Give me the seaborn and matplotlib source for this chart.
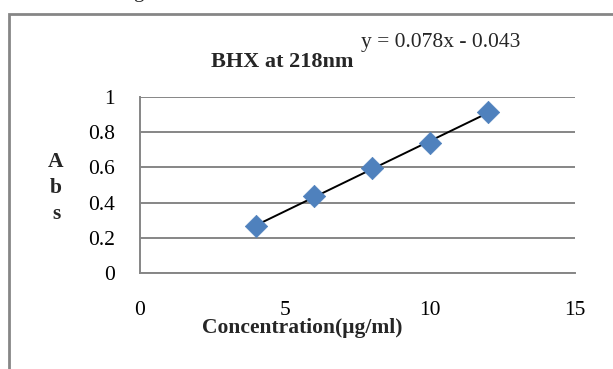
import numpy as np
import pandas as pd
import matplotlib
matplotlib.use('Agg')
import matplotlib.pyplot as plt
from matplotlib.patches import Rectangle
import seaborn as sns

# data
conc = [4, 6, 8, 10, 12]
absorb = [0.265, 0.44, 0.595, 0.737, 0.915]
slope = 0.078
intercept = -0.043
x_ticks = [0, 5, 10, 15]
y_ticks = [0, 0.2, 0.4, 0.6, 0.8, 1]

df = pd.DataFrame({'conc': conc, 'abs': absorb})

sns.set_theme(style='white')
plt.rcParams['font.family'] = ['Liberation Serif', 'DejaVu Serif']

W, H = 613, 369
fig = plt.figure(figsize=(W / 100, H / 100), dpi=100)
ax = fig.add_axes([140 / W, 1 - 273 / H, (575 - 140) / W, (273 - 97) / H])

grey = '#868686'

# outer chart border (runs off right and bottom)
fig.patches.append(Rectangle((9 / W, -0.1), 1.2, 1 - 14 / H + 0.1,
                             transform=fig.transFigure, fill=False,
                             edgecolor=grey, linewidth=2, zorder=0))

# fitted trendline
fit = np.polyfit(conc, absorb, 1)
xl = np.array([min(conc), max(conc)])
ax.plot(xl, np.polyval(fit, xl), color='black', linewidth=1.4, zorder=2)

sns.scatterplot(data=df, x='conc', y='abs', ax=ax, marker='D', s=130,
                color='#4F81BD', edgecolor='#4F81BD', linewidth=0.5, zorder=3)

ax.set_xlim(0, 15)
ax.set_ylim(0, 1)
ax.set_xticks(x_ticks)
ax.set_yticks(y_ticks)
ax.set_xticklabels([str(t) for t in x_ticks])
ax.set_yticklabels(['0', '0.2', '0.4', '0.6', '0.8', '1'])
ax.yaxis.grid(True, color=grey, linewidth=1.4)
ax.set_axisbelow(True)
for side in ['top', 'right']:
    ax.spines[side].set_visible(False)
for side in ['left', 'bottom']:
    ax.spines[side].set_color(grey)
    ax.spines[side].set_linewidth(1.4)
ax.tick_params(axis='both', which='both', direction='out', length=5,
               width=1.4, color=grey, labelsize=15.5, labelcolor='black')
ax.tick_params(axis='x', pad=15)
ax.tick_params(axis='y', pad=13)
ax.set_xlabel('')
ax.set_ylabel('')

fig.text(302 / W, 1 - 328 / H, 'Concentration(μg/ml)', ha='center', va='center',
         fontsize=15.5, fontweight='bold')
for ch, yy in zip('Abs', [162, 188, 214]):
    fig.text(56 / W, 1 - yy / H, ch, ha='center', va='center',
             fontsize=15.5, fontweight='bold')
fig.text(282 / W, 1 - 62 / H, 'BHX at 218nm', ha='center', va='center',
         fontsize=16, fontweight='bold')
fig.text(441 / W, 1 - 42 / H, f'y = {slope}x - {abs(intercept)}',
         ha='center', va='center', fontsize=15.5)
# clipped fragment of a caption line above the chart
fig.text(138 / W, 1 + 8 / H, 'g', ha='center', va='center', fontsize=15.5)

fig.savefig('out.png', dpi=100, facecolor='white')
